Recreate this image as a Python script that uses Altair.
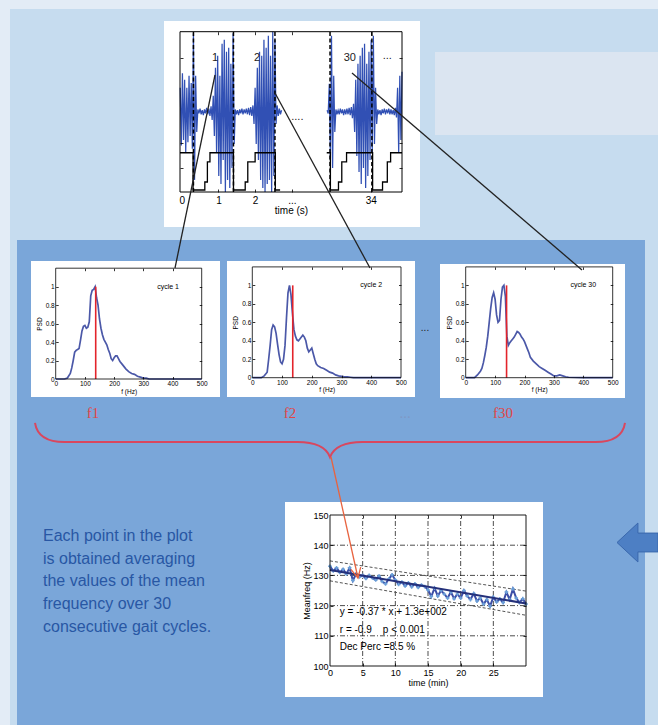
import altair as alt
import pandas as pd

W, H = 658, 725
SANS = "Liberation Sans"
SERIF = "Liberation Serif"

# ---------------- values ----------------
# EMG trace of the top panel: two stretches sampled every 0.03 s (a.u.)
emg_a_start, emg_b_start, emg_dt = -0.04, 3.96, 0.03
emg_a = [0.3, -0.42, 0.48, -0.35, 0.4, -0.5, 0.3, -0.38, 0.45, -0.3, 0.36, -0.46,
         0.98, -0.85, 0.45, -0.25,
         0.03, -0.02, 0.04, -0.03, 0.02, -0.04, 0.03, -0.02, 0.05, -0.03, 0.04, -0.05, 0.07, -0.1,
         0.2, -0.3, 0.55, -0.5, 0.7, -0.8, 0.45, -0.9, 0.85, -0.6, 0.9, -1.0, 0.75, -0.85, 0.8, -0.95, 0.6, -0.7,
         0.98, -0.4,
         0.03, -0.03, 0.02, -0.04, 0.03, -0.02, 0.04, -0.03, 0.03, -0.02, 0.04, -0.03, 0.05, -0.04, 0.06, -0.05, 0.08,
         -0.15, 0.3, -0.4, 0.55, -0.6, 0.75, -0.85, 0.7, -0.95, 0.9, -1.0, 0.8, -0.9, 0.95, -0.85, 0.7, -1.0,
         1.0, -0.8, 0.9,
         -0.15, 0.08, -0.05, 0.04, -0.03, 0.02]
emg_b = [0.02, -0.02,
         0.35, -0.6, 0.95, -0.7, 0.45, -0.25,
         0.03, -0.03, 0.02, -0.03, 0.04, -0.02, 0.03, -0.04, 0.03, -0.03, 0.04, -0.03, 0.05, -0.04, 0.06, -0.08, 0.1,
         -0.25, 0.4, -0.55, 0.6, -0.75, 0.7, -0.9, 0.8, -0.7, 0.85, -0.95, 0.6, -0.8, 0.75, -0.6, 0.9, -0.5, 0.95,
         -0.4, 0.3, -0.15,
         0.03, -0.03, 0.02, -0.04, 0.03, -0.02, 0.04, -0.03, 0.03, -0.02, 0.04, -0.03, 0.03, -0.03, 0.02, -0.04, 0.05, -0.07,
         0.3, -0.5, 0.45, -0.35, 0.5]
# foot-switch step signal
step_a_t = [-0.046, 0.31, 0.63, 0.70, 0.77, 1.41, 1.73, 1.80, 2.00, 2.55, 2.68]
step_a_v = [-0.51, -0.975, -0.875, -0.625, -0.51, -0.975, -0.875, -0.625, -0.51, -0.975, -0.975]
step_b_t = [3.95, 4.05, 4.27, 4.36, 4.49, 5.20, 5.47, 5.60, 5.69, 6.0]
step_b_v = [-0.51, -0.975, -0.875, -0.625, -0.51, -0.975, -0.875, -0.625, -0.51, -0.51]
cycle_cuts = [0.32, 1.41, 2.54, 4.04, 5.18]
top_x_labels = [0, 1, 2, 3, 5.15]
top_x_ticks = [1, 2, 3, 5.15]
top_y_ticks = [0.67, -0.39, -0.7]
top_mark_text = ["1", "2", "30", "...", "...."]
top_mark_t = [0.91, 2.05, 4.58, 5.6, 3.15]
top_mark_v = [0.67, 0.67, 0.67, 0.7, -0.06]

# PSD of three gait cycles
psd_f = [0, 30, 40, 50, 55, 60, 65, 70, 75, 80,
         85, 90, 95, 100, 105, 110, 115, 120, 125, 130,
         135, 140, 145, 150, 155, 160, 165, 170, 175, 180,
         185, 190, 195, 200, 205, 210, 215, 220, 230, 240,
         250, 260, 270, 280, 290, 300, 310, 320, 330, 340,
         350, 400, 450, 500]
psd_cycle1 = [0, 0, 0.01, 0.06, 0.12, 0.2, 0.29, 0.31, 0.32, 0.33,
              0.42, 0.52, 0.57, 0.58, 0.55, 0.56, 0.62, 0.9, 0.96, 0.97,
              1.0, 0.88, 0.8, 0.65, 0.55, 0.48, 0.43, 0.4, 0.37, 0.32,
              0.28, 0.22, 0.2, 0.23, 0.25, 0.25, 0.22, 0.19, 0.15, 0.11,
              0.08, 0.06, 0.05, 0.03, 0.02, 0.01, 0.01, 0, 0, 0,
              0, 0, 0, 0]
psd_cycle2 = [0, 0, 0.02, 0.06, 0.2, 0.35, 0.52, 0.57, 0.55, 0.48,
              0.36, 0.25, 0.17, 0.15, 0.2, 0.35, 0.65, 0.92, 1.0, 0.9,
              0.7, 0.52, 0.45, 0.41, 0.4, 0.42, 0.44, 0.46, 0.44, 0.4,
              0.32, 0.28, 0.3, 0.32, 0.26, 0.2, 0.15, 0.13, 0.11, 0.1,
              0.08, 0.06, 0.05, 0.03, 0.02, 0.015, 0.01, 0.01, 0.005, 0,
              0, 0, 0, 0]
psd_cycle30 = [0, 0, 0.03, 0.07, 0.1, 0.16, 0.24, 0.33, 0.45, 0.6,
               0.75, 0.87, 0.92, 0.85, 0.68, 0.6, 0.62, 0.85, 0.98, 1.0,
               0.88, 0.45, 0.35, 0.38, 0.4, 0.42, 0.44, 0.47, 0.5, 0.49,
               0.47, 0.44, 0.42, 0.39, 0.35, 0.31, 0.27, 0.22, 0.18, 0.15,
               0.12, 0.1, 0.08, 0.06, 0.04, 0.02, 0.02, 0.03, 0.02, 0.01,
               0.005, 0, 0, 0]
mean_freq = [137, 136, 139]
cycle_names = ["cycle 1", "cycle 2", "cycle 30"]
cycle_label_f = [385, 400, 400]
psd_x_labels = [0, 100, 200, 300, 400, 500]
psd_y_labels = [0, 0.2, 0.4, 0.6, 0.8, 1]
psd_x_ticks = [100, 200, 300, 400]
psd_y_ticks = [0.2, 0.4, 0.6, 0.8, 1]

# mean frequency vs time
mf_time = [0, 0.5, 1, 1.5, 2, 2.5, 3, 3.5, 4, 4.5, 5,
           5.5, 6, 6.5, 7, 7.5, 8, 8.5, 9, 9.5, 10,
           10.5, 11, 11.5, 12, 12.5, 13, 13.5, 14, 14.5, 15,
           15.5, 16, 16.5, 17, 17.5, 18, 18.5, 19, 19.5, 20,
           20.5, 21, 21.5, 22, 22.5, 23, 23.5, 24, 24.5, 25,
           25.5, 26, 26.5, 27, 27.5, 28, 28.5, 29, 29.5, 30]
mf_value = [133.0, 131.5, 132.5, 131.0, 132.0, 130.5, 132.5, 128.3, 130.5, 129.5, 130.0,
            129.0, 130.0, 129.2, 128.5, 129.8, 128.0, 127.2, 128.8, 130.2, 128.5,
            127.0, 127.8, 126.5, 127.5, 126.2, 127.2, 126.0, 126.8, 126.3, 125.2,
            123.0, 125.8, 123.2, 125.0, 123.8, 122.5, 124.5, 122.3, 123.8, 122.5,
            125.0, 123.2, 122.0, 124.0, 121.5, 122.5, 120.5, 122.0, 119.8, 122.8,
            121.2, 122.2, 121.0, 124.5, 122.0, 125.5, 122.5, 121.0, 122.3, 120.5]
fit_time = [0, 30]
fit_value = [131.8, 120.7]
ci_upper = [134.8, 124.8]
ci_lower = [128.2, 116.8]
mf_x_labels = [0, 5, 10, 15, 20, 25]
mf_y_labels = [100, 110, 120, 130, 140, 150]
mf_x_grid = [5, 10, 15, 20, 25]
mf_y_grid = [110, 120, 130, 140]
stats_text = ["y = -0.37 * x + 1.3e+002", "r = -0.9\u00a0\u00a0\u00a0\u00a0p < 0.001", "Dec Perc =8.5 %"]
stats_t = [1.5, 1.5, 1.5]
stats_v = [117.9, 111.9, 106.3]

f_labels = ["f1", "f2", "...", "f30"]
para_lines = ["Each point in the plot", "is obtained averaging", "the values of the mean",
              "frequency over 30", "consecutive gait cycles."]

# ---------------- layout (pixel frames of each sub plot) ----------------
TOP = dict(xd=[-0.046, 6.0], xr=[180, 402], yd=[-1, 1], yr=[192, 31.7])
P1 = dict(xd=[0, 500], xr=[55.7, 201.7], yd=[0, 1.2], yr=[379, 268.2])
P2 = dict(xd=[0, 500], xr=[252.3, 401], yd=[0, 1.2], yr=[377.7, 266.9])
P3 = dict(xd=[0, 500], xr=[465.7, 612.7], yd=[0, 1.2], yr=[377.7, 266.9])
MF = dict(xd=[0, 30], xr=[330, 526], yd=[100, 150], yr=[666, 515])

one = pd.DataFrame({"k": [0]})


def sc(d, r):
    return alt.Scale(domain=d, range=r, nice=False, zero=False)


def X(sp, f, axis=None):
    return alt.X(f, type="quantitative", scale=sc(sp["xd"], sp["xr"]), axis=axis)


def Y(sp, f, axis=None):
    return alt.Y(f, type="quantitative", scale=sc(sp["yd"], sp["yr"]), axis=axis)


def rect(x0, y0, x1, y1, color):
    return alt.Chart(one).mark_rect(color=color).encode(
        x=alt.value(x0), x2=alt.value(x1), y=alt.value(y0), y2=alt.value(y1))


def seg(x0, y0, x1, y1, color, w):
    return alt.Chart(one).mark_rule(color=color, strokeWidth=w).encode(
        x=alt.value(x0), y=alt.value(y0), x2=alt.value(x1), y2=alt.value(y1))


def label(x, y, txt, size, color, font=SANS, **kw):
    return alt.Chart(one).mark_text(text=txt, font=font, fontSize=size, color=color, **kw).encode(
        x=alt.value(x), y=alt.value(y))


def frame_layers(sp, xt, yt, xlab, ylab, fs, tick, xtitle, ytitle, xexpr="",
                 lpad=2, xtpad=1, ytpad=2, fw=1.0):
    df = pd.DataFrame({"x0": [sp["xd"][0]], "x1": [sp["xd"][1]],
                       "y0": [sp["yd"][0]], "y1": [sp["yd"][1]]})
    xl, xr = sp["xr"]
    yb, ytop = sp["yr"]
    base = dict(grid=False, domain=False, labelFont=SANS, titleFont=SANS, labelColor="black",
                titleColor="black", titleFontWeight="normal", labelFlush=False,
                labelOverlap=False, minExtent=0, zindex=1, labelFontSize=fs,
                titleFontSize=fs, format="~f", ticks=False, labelPadding=lpad)
    xkw = dict(base, orient="bottom", offset=yb - H, values=xlab, titlePadding=xtpad, title=xtitle)
    if xexpr:
        xkw["labelExpr"] = xexpr
    yaxis = None
    if ylab:
        yaxis = alt.Axis(**dict(base, orient="left", offset=-xl, values=ylab,
                                titlePadding=ytpad, title=ytitle))
    lab = alt.Chart(df).mark_rect(fill="transparent", stroke="black", strokeWidth=fw).encode(
        x=X(sp, "x0", alt.Axis(**xkw)), x2="x1", y=Y(sp, "y0", yaxis), y2="y1")
    tk = dict(grid=False, domain=False, labels=False, ticks=True, tickSize=tick,
              tickColor="black", tickWidth=0.8, title=None, zindex=1)
    ta = alt.Chart(df).mark_rect(fill="transparent", strokeOpacity=0).encode(
        x=X(sp, "x0", alt.Axis(orient="top", offset=-yb, values=xt, **tk)), x2="x1",
        y=Y(sp, "y0", alt.Axis(orient="right", offset=xl - W, values=yt, **tk)), y2="y1")
    tb = alt.Chart(df).mark_rect(fill="transparent", strokeOpacity=0).encode(
        x=X(sp, "x0", alt.Axis(orient="bottom", offset=ytop - H, values=xt, **tk)), x2="x1",
        y=Y(sp, "y0", alt.Axis(orient="left", offset=-xr, values=yt, **tk)), y2="y1")
    return [lab, ta, tb]


layers = []

# ---------------- backgrounds ----------------
layers += [
    rect(10, 9, W, H, "#c6dcef"),
    rect(435, 52, W, 135, "#dbe5f1"),
    rect(17, 240, 645, H, "#7aa6d9"),
    rect(164, 21, 420, 227, "#ffffff"),
    rect(31, 261, 220, 397, "#ffffff"),
    rect(227, 261, 415, 397, "#ffffff"),
    rect(440, 264, 625, 398, "#ffffff"),
    rect(285, 502, 543, 697, "#ffffff"),
]

# ---------------- top EMG panel ----------------
emg_df = pd.DataFrame({
    "t": [emg_a_start + emg_dt * i for i in range(len(emg_a))]
         + [emg_b_start + emg_dt * i for i in range(len(emg_b))],
    "v": emg_a + emg_b,
    "seg": ["a"] * len(emg_a) + ["b"] * len(emg_b)})
step_df = pd.DataFrame({"t": step_a_t + step_b_t, "v": step_a_v + step_b_v,
                        "seg": ["a"] * len(step_a_t) + ["b"] * len(step_b_t)})
cut_df = pd.DataFrame({"t": cycle_cuts, "lo": [-1] * len(cycle_cuts), "hi": [1] * len(cycle_cuts)})
mark_df = pd.DataFrame({"t": top_mark_t, "v": top_mark_v, "s": top_mark_text})
layers += [
    alt.Chart(emg_df).mark_line(color="#3150b4", strokeWidth=1.25).encode(
        x=X(TOP, "t"), y=Y(TOP, "v"), detail="seg:N"),
    alt.Chart(step_df).mark_line(interpolate="step-after", color="black", strokeWidth=1.3).encode(
        x=X(TOP, "t"), y=Y(TOP, "v"), detail="seg:N"),
    alt.Chart(cut_df).mark_rule(color="black", strokeWidth=1.5, strokeDash=[4, 2.5]).encode(
        x=X(TOP, "t"), y=Y(TOP, "lo"), y2="hi"),
    alt.Chart(mark_df).mark_text(font=SANS, fontSize=11, color="#222222").encode(
        x=X(TOP, "t"), y=Y(TOP, "v"), text="s:N"),
]
layers += frame_layers(TOP, top_x_ticks, top_y_ticks, top_x_labels, None, 10, 3,
                       "time (s)", None,
                       xexpr="datum.value == 3 ? '...' : (datum.value > 5 ? '34' : datum.label)",
                       lpad=3, xtpad=0)

# ---------------- PSD panels ----------------
for sp, vals, mfq, name, lf in zip([P1, P2, P3], [psd_cycle1, psd_cycle2, psd_cycle30],
                                   mean_freq, cycle_names, cycle_label_f):
    layers += [
        alt.Chart(pd.DataFrame({"f": psd_f, "p": vals})).mark_line(
            color="#4b58a8", strokeWidth=1.7).encode(x=X(sp, "f"), y=Y(sp, "p")),
        alt.Chart(pd.DataFrame({"f": [mfq], "lo": [0], "hi": [1]})).mark_rule(
            color="#e3242b", strokeWidth=1.6).encode(x=X(sp, "f"), y=Y(sp, "lo"), y2="hi"),
        alt.Chart(pd.DataFrame({"f": [lf], "p": [1.0], "s": [name]})).mark_text(
            font=SANS, fontSize=7, color="black").encode(x=X(sp, "f"), y=Y(sp, "p"), text="s:N"),
    ]
    layers += frame_layers(sp, psd_x_ticks, psd_y_ticks, psd_x_labels, psd_y_labels, 6.5, 2.5,
                           "f (Hz)", "PSD", lpad=1.5, xtpad=1, ytpad=3, fw=0.8)

# ---------------- mean frequency panel ----------------
vgrid = pd.DataFrame({"t": mf_x_grid, "lo": [100] * len(mf_x_grid), "hi": [150] * len(mf_x_grid)})
hgrid = pd.DataFrame({"v": mf_y_grid, "lo": [0] * len(mf_y_grid), "hi": [30] * len(mf_y_grid)})
ci_df = pd.DataFrame({"t": fit_time + fit_time, "v": ci_upper + ci_lower,
                      "g": ["up"] * len(fit_time) + ["lo"] * len(fit_time)})
mf_df = pd.DataFrame({"t": mf_time, "v": mf_value})
fit_df = pd.DataFrame({"t": fit_time, "v": fit_value})
stats_df = pd.DataFrame({"t": stats_t, "v": stats_v, "s": stats_text})
layers += [
    alt.Chart(vgrid).mark_rule(color="black", strokeWidth=0.7, strokeDash=[5, 2, 1, 2]).encode(
        x=X(MF, "t"), y=Y(MF, "lo"), y2="hi"),
    alt.Chart(hgrid).mark_rule(color="black", strokeWidth=0.7, strokeDash=[5, 2, 1, 2]).encode(
        y=Y(MF, "v"), x=X(MF, "lo"), x2="hi"),
    alt.Chart(ci_df).mark_line(color="#555555", strokeWidth=1, strokeDash=[3, 2]).encode(
        x=X(MF, "t"), y=Y(MF, "v"), detail="g:N"),
    alt.Chart(mf_df).mark_line(color="#3c4ea6", strokeWidth=2).encode(x=X(MF, "t"), y=Y(MF, "v")),
    alt.Chart(mf_df).mark_point(shape="cross", filled=True, size=14, color="#6b9fd8", opacity=1).encode(
        x=X(MF, "t"), y=Y(MF, "v")),
    alt.Chart(fit_df).mark_line(color="#24307a", strokeWidth=2.2).encode(x=X(MF, "t"), y=Y(MF, "v")),
    alt.Chart(stats_df).mark_text(font=SANS, fontSize=10, color="black", align="left").encode(
        x=X(MF, "t"), y=Y(MF, "v"), text="s:N"),
]
layers += frame_layers(MF, mf_x_grid, mf_y_grid, mf_x_labels, mf_y_labels, 9, 3,
                       "time (min)", "Meanfreq (Hz)", lpad=2, xtpad=1, ytpad=1, fw=0.9)

# ---------------- annotations ----------------
for (x, txt) in zip([93, 290, 405, 503], f_labels):
    layers.append(label(x, 413, txt, 15, "#e04545" if txt != "..." else "#7f98c6", font=SERIF))
layers.append(label(425, 328, "...", 10, "#222222"))
layers.append(alt.Chart(one).mark_text(text=para_lines, font=SANS, fontSize=16, color="#2857a4",
                                       align="left", baseline="top", lineHeight=22.7).encode(
    x=alt.value(43), y=alt.value(528)))

BRACE = ("M -1 -0.058 Q -0.99 0.007 -0.9 0.007 L -0.11 0.007 Q -0.02 0.007 0 0.058 "
         "Q 0.02 0.007 0.11 0.007 L 0.9 0.007 Q 0.99 0.007 1 -0.058")
layers.append(alt.Chart(one).mark_point(shape=BRACE, size=590 ** 2, filled=False, color="#d9475e",
                                        strokeWidth=2, opacity=1).encode(
    x=alt.value(330), y=alt.value(440)))
ARROW = "M -1 0 L 0.02 -0.95 L 0.02 -0.46 L 1 -0.46 L 1 0.46 L 0.02 0.46 L 0.02 0.95 Z"
layers.append(alt.Chart(one).mark_point(shape=ARROW, size=41 ** 2, filled=True, fill="#4d7fc4",
                                        stroke="#3a68ad", strokeWidth=1, opacity=1).encode(
    x=alt.value(637.5), y=alt.value(542.5)))
layers.append(seg(331, 457, 358, 578, "#e8633f", 1.3))
layers.append(alt.Chart(one).mark_point(shape="M -1 -1 L 0 1 L 1 -1", size=100, filled=False,
                                        color="#e8633f", strokeWidth=1.3, opacity=1, angle=347.6).encode(
    x=alt.value(356.9), y=alt.value(573.1)))
layers += [
    seg(215, 75, 175, 268, "#222222", 1.3),
    seg(275, 93, 370, 268, "#222222", 1.3),
    seg(352, 73, 582, 270, "#222222", 1.3),
]

chart = alt.layer(*layers).resolve_scale(x="independent", y="independent").properties(
    width=W, height=H, padding=0, autosize=alt.AutoSizeParams(type="none"),
    background="#e3ecf6").configure_view(strokeOpacity=0)

chart.save("out.html", embed_options={"renderer": "svg", "actions": False})
